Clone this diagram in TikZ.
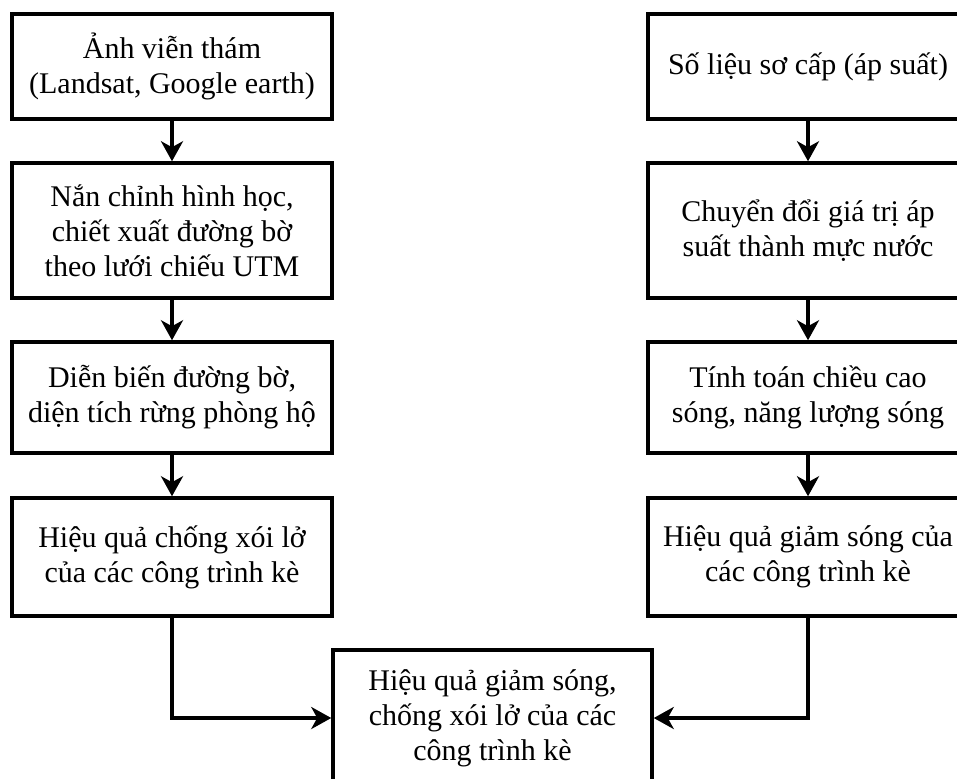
\documentclass[tikz,border=0pt]{standalone}
\usepackage{fontspec}
\setmainfont{Liberation Serif}
\usetikzlibrary{arrows.meta}
\begin{document}
\begin{tikzpicture}[x=1pt,y=-1pt,
  box/.style={draw=black, line width=3.5pt, minimum width=320pt, inner sep=0pt,
    align=center, font=\fontsize{30}{35}\selectfont, text=black},
  arr/.style={line width=3.5pt, -{Stealth[length=20pt,width=22pt,inset=6pt]}}]
\useasboundingbox (0,0) rectangle (957,778);
\clip (0,0) rectangle (957,778);
% left column
\node[box, minimum height=105pt] (L1) at (172,66.5) {Ảnh viễn thám\\(Landsat, Google earth)};
\node[box, minimum height=135pt] (L2) at (172,230.5) {Nắn chỉnh hình học,\\chiết xuất đường bờ\\theo lưới chiếu UTM};
\node[box, minimum height=111pt] (L3) at (172,397.5) {Diễn biến đường bờ,\\diện tích rừng phòng hộ};
\node[box, minimum height=118pt] (L4) at (172,557) {Hiệu quả chống xói lở\\của các công trình kè};
% right column
\node[box, minimum height=105pt] (R1) at (808,66.5) {Số liệu sơ cấp (áp suất)};
\node[box, minimum height=135pt] (R2) at (808,230.5) {Chuyển đổi giá trị áp\\suất thành mực nước};
\node[box, minimum height=111pt] (R3) at (808,397.5) {Tính toán chiều cao\\sóng, năng lượng sóng};
\node[box, minimum height=118pt] (R4) at (808,557) {Hiệu quả giảm sóng của\\các công trình kè};
% bottom
\node[box, minimum width=319pt, minimum height=136pt] (B) at (492.5,718) {Hiệu quả giảm sóng,\\chống xói lở của các\\công trình kè};
% connectors
\draw[arr] (L1) -- (L2);
\draw[arr] (L2) -- (L3);
\draw[arr] (L3) -- (L4);
\draw[arr] (R1) -- (R2);
\draw[arr] (R2) -- (R3);
\draw[arr] (R3) -- (R4);
\draw[arr] (L4.south) |- (B.west);
\draw[arr] (R4.south) |- (B.east);
\end{tikzpicture}
\end{document}
